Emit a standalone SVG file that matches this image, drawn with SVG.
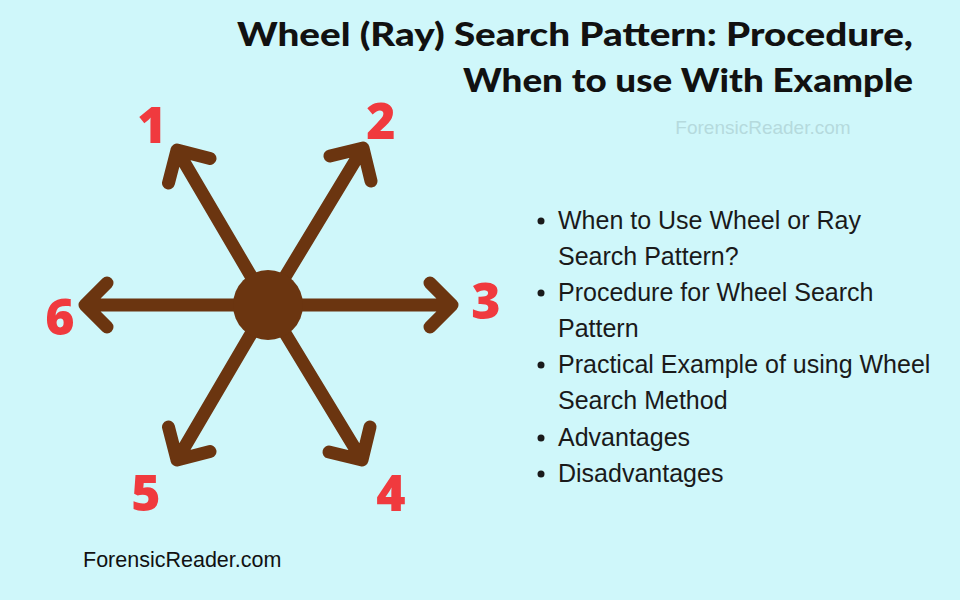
<svg xmlns="http://www.w3.org/2000/svg" width="960" height="600" viewBox="0 0 960 600">
<style>
.t{font-family:Lato,"Open Sans",sans-serif;font-weight:900;font-size:33px;fill:#111;text-anchor:end}
.n{font-family:"Open Sans",Lato,sans-serif;font-weight:800;font-size:50px;fill:#f03a3e;text-anchor:middle}
.b{font-family:"Liberation Sans",Arial,sans-serif;font-size:25px;fill:#1a1a1a}
.a{fill:none;stroke:#6b3510;stroke-width:13;stroke-linecap:round;stroke-linejoin:round}
</style>
<rect width="960" height="600" fill="#cff7fa"/>
<text class="t" x="913" y="46" textLength="676" lengthAdjust="spacingAndGlyphs">Wheel (Ray) Search Pattern: Procedure,</text>
<text class="t" x="913" y="92" textLength="450" lengthAdjust="spacingAndGlyphs">When to use With Example</text>
<text x="763" y="134" font-family="'Liberation Sans',sans-serif" font-size="19" fill="#b5dadd" text-anchor="middle">ForensicReader.com</text>
<g id="connectors">
<path class="a" d="M268 305 H452 M430 283 L452 305 L430 327"/>
<path class="a" d="M268 305 H85 M107 283 L85 305 L107 327"/>
<path class="a" d="M268 305 L177 150 M168.5 183 L177 150 L210 158.5"/>
<path class="a" d="M268 305 L363 148 M330 156 L363 148 L371 181"/>
<path class="a" d="M268 305 L362 460 M370 427 L362 460 L329 452"/>
<path class="a" d="M268 305 L177 460 M210 451.5 L177 460 L168.5 427"/>
</g>
<g id="hub"><circle cx="268" cy="305" r="35" fill="#6b3510"/></g>
<g id="n1"><text class="n" x="152" y="143">1</text></g>
<g id="n2"><text class="n" x="381" y="139">2</text></g>
<g id="n3"><text class="n" x="486" y="319">3</text></g>
<g id="n4"><text class="n" x="391" y="511">4</text></g>
<g id="n5"><text class="n" x="146" y="511">5</text></g>
<g id="n6"><text class="n" x="60" y="335">6</text></g>
<g id="bullets" class="b">
<circle cx="541" cy="221" r="3.5" fill="#1a1a1a"/><circle cx="541" cy="293" r="3.5" fill="#1a1a1a"/><circle cx="541" cy="365" r="3.5" fill="#1a1a1a"/><circle cx="541" cy="438" r="3.5" fill="#1a1a1a"/><circle cx="541" cy="474" r="3.5" fill="#1a1a1a"/>
<text x="558" y="229">When to Use Wheel or Ray</text>
<text x="558" y="265">Search Pattern?</text>
<text x="558" y="301">Procedure for Wheel Search</text>
<text x="558" y="337">Pattern</text>
<text x="558" y="373">Practical Example of using Wheel</text>
<text x="558" y="409">Search Method</text>
<text x="558" y="446">Advantages</text>
<text x="558" y="482">Disadvantages</text>
</g>
<text x="83" y="567" font-family="'Liberation Sans',sans-serif" font-size="21.5" fill="#111">ForensicReader.com</text>
</svg>
